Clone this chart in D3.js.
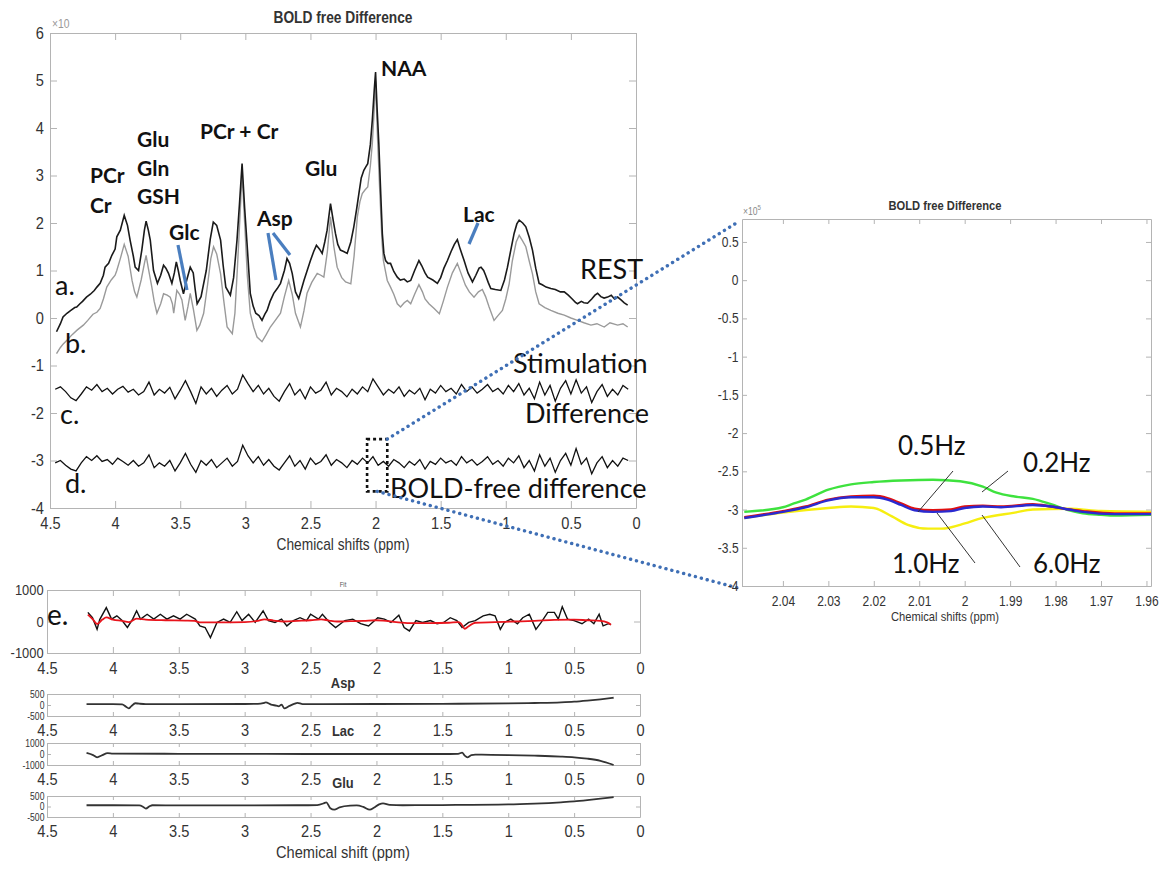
<!DOCTYPE html>
<html>
<head>
<meta charset="utf-8">
<script src="https://cdn.jsdelivr.net/npm/d3@7"></script>
<style>
  body { margin: 0; background: #fff; }
  .mt, .tick text { font-family: 'Liberation Sans', Arial, sans-serif; fill: #333; }
  .ann { font-family: Lato, 'Open Sans', sans-serif; fill: #111; }
</style>
</head>
<body>
<svg id="fig" width="1170" height="869"></svg>
<script>
// ---- main spectrum: a (black) and b (grey), [ppm, value] ----
const specA = [[4.45,-0.29],[4.42,-0.12],[4.40,0.02],[4.37,0.10],[4.34,0.16],[4.31,0.22],[4.295,0.23],[4.27,0.30],[4.25,0.35],[4.22,0.44],[4.19,0.50],[4.16,0.58],[4.14,0.65],[4.115,0.73],[4.09,0.90],[4.077,1.07],[4.05,1.15],[4.025,1.32],[4.0,1.45],[3.987,1.71],[3.96,1.85],[3.93,2.16],[3.905,1.95],[3.885,1.64],[3.86,1.30],[3.846,1.07],[3.82,1.00],[3.795,1.43],[3.775,1.85],[3.762,2.04],[3.745,1.85],[3.73,1.64],[3.705,1.00],[3.675,0.73],[3.65,0.90],[3.628,1.11],[3.61,1.05],[3.59,0.94],[3.564,0.73],[3.545,0.95],[3.53,1.18],[3.515,1.00],[3.5,0.79],[3.475,0.51],[3.45,0.80],[3.423,1.07],[3.40,0.95],[3.385,0.60],[3.37,0.30],[3.34,0.45],[3.30,1.0],[3.27,1.65],[3.246,2.02],[3.22,1.95],[3.19,1.64],[3.17,1.10],[3.15,0.65],[3.115,0.48],[3.09,0.85],[3.064,1.64],[3.045,2.40],[3.025,3.25],[3.005,2.30],[2.987,1.57],[2.962,0.52],[2.94,0.25],[2.92,0.10],[2.895,0.05],[2.872,-0.05],[2.85,0.08],[2.833,0.16],[2.81,0.35],[2.782,0.52],[2.755,0.62],[2.73,0.73],[2.70,1.0],[2.68,1.25],[2.66,1.15],[2.64,0.94],[2.615,0.55],[2.59,0.41],[2.57,0.60],[2.55,0.79],[2.525,1.0],[2.5,1.21],[2.475,1.40],[2.454,1.53],[2.43,1.45],[2.41,1.36],[2.39,1.60],[2.372,1.85],[2.346,2.41],[2.325,2.05],[2.308,1.78],[2.29,1.55],[2.27,1.43],[2.245,1.40],[2.218,1.36],[2.19,1.60],[2.167,1.92],[2.145,2.30],[2.128,2.62],[2.11,2.95],[2.09,3.11],[2.075,3.18],[2.06,3.25],[2.04,3.65],[2.025,4.16],[2.01,4.80],[2.0,5.18],[1.988,4.40],[1.975,3.68],[1.96,2.60],[1.948,1.78],[1.936,1.36],[1.923,1.21],[1.905,1.15],[1.885,1.15],[1.86,0.98],[1.833,0.86],[1.81,0.80],[1.78,0.82],[1.756,0.76],[1.73,0.79],[1.70,1.00],[1.667,1.21],[1.645,1.10],[1.62,0.95],[1.6,0.86],[1.56,0.80],[1.525,0.73],[1.50,0.85],[1.475,1.05],[1.448,1.21],[1.42,1.40],[1.395,1.55],[1.372,1.65],[1.35,1.45],[1.32,1.21],[1.29,0.95],[1.256,0.76],[1.23,0.90],[1.205,1.05],[1.19,1.07],[1.17,1.0],[1.155,0.90],[1.135,0.75],[1.115,0.62],[1.08,0.60],[1.038,0.58],[1.01,0.80],[0.987,1.07],[0.96,1.45],[0.936,1.78],[0.915,1.98],[0.897,2.06],[0.87,2.0],[0.846,1.92],[0.82,1.70],[0.795,1.43],[0.77,1.05],[0.744,0.73],[0.72,0.70],[0.69,0.65],[0.654,0.62],[0.62,0.60],[0.58,0.55],[0.551,0.55],[0.52,0.48],[0.49,0.40],[0.465,0.33],[0.449,0.30],[0.42,0.35],[0.40,0.32],[0.372,0.31],[0.34,0.40],[0.315,0.48],[0.295,0.52],[0.27,0.45],[0.245,0.42],[0.218,0.44],[0.19,0.48],[0.165,0.40],[0.141,0.44],[0.115,0.38],[0.09,0.32],[0.064,0.27]];

const specB = [[4.45,-0.75],[4.42,-0.62],[4.40,-0.55],[4.37,-0.47],[4.33,-0.35],[4.29,-0.25],[4.244,-0.15],[4.21,-0.05],[4.17,0.08],[4.14,0.12],[4.115,0.20],[4.09,0.40],[4.064,0.65],[4.03,0.80],[4.0,0.90],[3.987,1.0],[3.96,1.25],[3.93,1.55],[3.90,1.30],[3.87,0.79],[3.85,0.55],[3.833,0.44],[3.80,0.80],[3.775,1.15],[3.762,1.32],[3.745,1.05],[3.718,0.65],[3.70,0.35],[3.679,0.10],[3.65,0.30],[3.628,0.51],[3.60,0.48],[3.577,0.44],[3.56,0.30],[3.55,0.10],[3.526,0.58],[3.505,0.50],[3.487,0.38],[3.462,-0.05],[3.44,0.25],[3.423,0.52],[3.40,0.20],[3.372,-0.26],[3.35,-0.15],[3.32,0.10],[3.29,0.70],[3.265,1.25],[3.244,1.50],[3.22,1.35],[3.19,0.93],[3.165,0.35],[3.14,-0.19],[3.10,-0.33],[3.08,0.10],[3.06,1.10],[3.04,2.20],[3.025,3.05],[3.005,2.0],[2.985,0.90],[2.962,0.10],[2.935,-0.20],[2.91,-0.40],[2.872,-0.50],[2.84,-0.35],[2.808,-0.19],[2.77,-0.05],[2.73,0.10],[2.70,0.45],[2.667,0.79],[2.64,0.50],[2.615,0.10],[2.577,-0.19],[2.55,0.15],[2.526,0.52],[2.49,0.75],[2.448,0.94],[2.42,0.90],[2.397,0.86],[2.37,1.40],[2.346,2.13],[2.32,1.50],[2.295,1.07],[2.26,0.85],[2.23,0.76],[2.19,0.72],[2.165,1.30],[2.14,2.13],[2.12,2.45],[2.102,2.62],[2.08,2.70],[2.06,2.76],[2.04,3.20],[2.025,3.67],[2.01,4.40],[2.0,5.0],[1.985,3.80],[1.967,2.62],[1.95,1.60],[1.94,1.21],[1.91,0.79],[1.885,0.65],[1.86,0.50],[1.833,0.30],[1.808,0.23],[1.78,0.32],[1.756,0.37],[1.73,0.30],[1.70,0.50],[1.667,0.70],[1.64,0.55],[1.62,0.40],[1.59,0.30],[1.55,0.20],[1.51,0.09],[1.48,0.35],[1.448,0.65],[1.41,0.95],[1.372,1.15],[1.345,0.95],[1.31,0.69],[1.28,0.55],[1.244,0.44],[1.21,0.55],[1.18,0.60],[1.155,0.45],[1.128,0.23],[1.09,-0.05],[1.06,0.05],[1.026,0.16],[1.0,0.40],[0.974,0.72],[0.95,1.20],[0.92,1.60],[0.897,1.74],[0.87,1.62],[0.846,1.50],[0.82,1.20],[0.795,0.93],[0.77,0.55],[0.744,0.30],[0.70,0.22],[0.654,0.16],[0.60,0.10],[0.551,0.06],[0.50,0.0],[0.449,-0.05],[0.40,-0.10],[0.346,-0.15],[0.30,-0.12],[0.244,-0.19],[0.20,-0.10],[0.141,-0.15],[0.10,-0.12],[0.064,-0.19]];

// c. stimulation difference and d. BOLD-free difference, sampled every 0.04 ppm from 4.46
const diffStart = 4.46, diffStep = 0.04;
const diffC = [
  -1.50,-1.45,-1.55,-1.68,-1.74,-1.60,-1.45,-1.52,-1.40,-1.55,
  -1.48,-1.60,-1.50,-1.44,-1.56,-1.50,-1.62,-1.55,-1.35,-1.62,
  -1.50,-1.58,-1.46,-1.70,-1.52,-1.32,-1.55,-1.80,-1.45,-1.60,
  -1.48,-1.65,-1.52,-1.42,-1.60,-1.50,-1.20,-1.38,-1.55,-1.42,
  -1.60,-1.48,-1.65,-1.75,-1.55,-1.38,-1.62,-1.50,-1.70,-1.45,
  -1.58,-1.52,-1.35,-1.62,-1.48,-1.55,-1.66,-1.50,-1.60,-1.45,
  -1.55,-1.28,-1.45,-1.62,-1.50,-1.58,-1.45,-1.65,-1.52,-1.60,
  -1.48,-1.72,-1.50,-1.58,-1.42,-1.55,-1.48,-1.60,-1.40,-1.55,
  -1.45,-1.58,-1.50,-1.40,-1.55,-1.48,-1.60,-1.42,-1.55,-1.38,
  -1.62,-1.48,-1.70,-1.35,-1.62,-1.42,-1.75,-1.48,-1.32,-1.60,
  -1.30,-1.58,-1.45,-1.78,-1.55,-1.40,-1.65,-1.50,-1.62,-1.42,
  -1.50];
const diffD = [
  -3.05,-3.00,-3.10,-3.18,-3.22,-3.05,-2.92,-3.00,-2.90,-3.02,
  -2.98,-3.08,-2.95,-3.02,-3.10,-3.00,-3.12,-3.05,-2.88,-3.15,
  -3.05,-3.12,-3.00,-3.22,-3.05,-2.85,-3.08,-3.25,-3.00,-3.10,
  -2.98,-3.15,-3.05,-2.95,-3.12,-3.02,-2.68,-2.90,-3.05,-2.92,
  -3.10,-2.98,-3.12,-3.20,-3.05,-2.90,-3.12,-3.00,-3.18,-2.95,
  -3.08,-3.02,-2.88,-3.10,-2.98,-3.05,-3.15,-3.00,-3.08,-2.95,
  -3.05,-2.92,-3.10,-3.02,-3.12,-2.98,-3.05,-3.15,-3.02,-3.10,
  -2.98,-3.18,-3.02,-3.08,-2.95,-3.05,-3.00,-3.10,-2.92,-3.05,
  -2.98,-3.10,-3.02,-2.92,-3.08,-3.00,-3.12,-2.95,-3.05,-2.90,
  -3.15,-3.00,-3.22,-2.88,-3.12,-2.95,-3.25,-3.00,-2.85,-3.10,
  -2.75,-3.08,-2.95,-3.28,-3.05,-2.92,-3.15,-3.00,-3.12,-2.95,
  -3.00];

// ---- zoomed inset (x1e5) ----
const zoomGreen = [[2.0485,-3.03],[2.04,-2.97],[2.038,-2.93],[2.035,-2.87],[2.03,-2.74],[2.025,-2.67],[2.02,-2.64],[2.014,-2.62],[2.007,-2.61],[2.001,-2.63],[1.996,-2.70],[1.993,-2.78],[1.989,-2.83],[1.985,-2.86],[1.981,-2.93],[1.977,-3.01],[1.974,-3.05],[1.97,-3.07],[1.967,-3.08],[1.959,-3.07]];
const zoomRed = [[2.0485,-3.10],[2.04,-3.02],[2.035,-2.96],[2.03,-2.87],[2.025,-2.83],[2.02,-2.82],[2.017,-2.85],[2.014,-2.92],[2.011,-2.99],[2.007,-3.01],[2.003,-3.00],[2.0,-2.96],[1.996,-2.95],[1.992,-2.96],[1.985,-2.93],[1.981,-2.96],[1.977,-3.00],[1.974,-3.02],[1.967,-3.05],[1.959,-3.05]];
const zoomBlue = [[2.0485,-3.11],[2.04,-3.03],[2.035,-2.97],[2.03,-2.88],[2.025,-2.84],[2.02,-2.84],[2.017,-2.87],[2.014,-2.94],[2.011,-3.01],[2.007,-3.03],[2.003,-3.02],[2.0,-2.98],[1.996,-2.96],[1.992,-2.97],[1.985,-2.94],[1.981,-2.96],[1.977,-3.00],[1.974,-3.03],[1.967,-3.06],[1.959,-3.06]];
const zoomYellow = [[2.0485,-3.11],[2.04,-3.04],[2.03,-2.98],[2.025,-2.96],[2.02,-2.98],[2.016,-3.09],[2.0125,-3.20],[2.008,-3.25],[2.005,-3.25],[2.001,-3.20],[1.996,-3.11],[1.989,-3.04],[1.985,-3.00],[1.977,-2.99],[1.97,-3.02],[1.959,-3.03]];

// ---- e. fit residual panel ----
const fitData = [[4.19,290],[4.155,120],[4.12,-250],[4.10,60],[4.05,440],[4.01,75],[3.97,180],[3.93,30],[3.89,-190],[3.85,75],[3.82,340],[3.79,75],[3.74,230],[3.69,75],[3.64,230],[3.59,75],[3.54,180],[3.49,75],[3.44,230],[3.375,75],[3.34,-140],[3.30,-190],[3.26,-510],[3.21,-30],[3.16,75],[3.11,-30],[3.06,310],[3.02,30],[2.97,230],[2.92,-30],[2.86,340],[2.82,30],[2.77,-30],[2.72,75],[2.68,-140],[2.63,30],[2.58,120],[2.53,30],[2.50,230],[2.44,75],[2.41,230],[2.356,-30],[2.31,-190],[2.24,30],[2.18,75],[2.12,-70],[2.06,-140],[1.99,120],[1.94,75],[1.89,-30],[1.83,200],[1.79,-190],[1.75,-300],[1.70,30],[1.65,-30],[1.59,30],[1.54,-70],[1.49,-30],[1.44,120],[1.39,30],[1.35,-190],[1.30,-30],[1.25,30],[1.19,180],[1.14,230],[1.10,180],[1.06,-250],[1.03,-30],[0.98,75],[0.93,-70],[0.89,120],[0.84,230],[0.79,-250],[0.75,-30],[0.70,290],[0.65,290],[0.62,75],[0.59,470],[0.55,75],[0.50,30],[0.44,-70],[0.39,75],[0.35,-70],[0.31,230],[0.28,-140],[0.24,-70],[0.22,-100]];
const fitCurve = [[4.19,220],[4.15,60],[4.12,-80],[4.08,60],[4.05,130],[4.0,60],[3.93,20],[3.88,-20],[3.82,90],[3.75,60],[3.6,40],[3.45,30],[3.38,20],[3.34,-30],[3.2,-30],[3.0,-20],[2.9,20],[2.85,70],[2.78,30],[2.7,0],[2.6,20],[2.5,40],[2.42,70],[2.36,30],[2.3,0],[2.2,10],[2.1,20],[2.0,40],[1.95,30],[1.85,-20],[1.75,-50],[1.6,-50],[1.45,-40],[1.38,-20],[1.36,-60],[1.33,-230],[1.30,-150],[1.25,-40],[1.1,-20],[0.95,0],[0.8,20],[0.65,50],[0.5,60],[0.4,40],[0.3,20],[0.25,-30],[0.22,-100]];

// ---- metabolite basis panels ----
const aspCurve = [[4.2,40],[4.0,40],[3.93,30],[3.9,-80],[3.88,-150],[3.86,-50],[3.83,80],[3.8,60],[3.75,40],[3.5,40],[3.0,45],[2.9,50],[2.86,80],[2.84,120],[2.8,20],[2.76,-30],[2.74,-60],[2.72,20],[2.7,-150],[2.66,-40],[2.62,60],[2.6,100],[2.56,40],[2.4,40],[2.0,45],[1.5,55],[1.0,70],[0.8,90],[0.6,120],[0.5,150],[0.4,200],[0.3,260],[0.2,330]];
const lacCurve = [[4.2,100],[4.15,-100],[4.12,-300],[4.08,-100],[4.04,80],[4.0,40],[3.5,20],[3.0,10],[2.5,0],[2.0,0],[1.5,0],[1.38,20],[1.35,120],[1.33,-150],[1.31,-300],[1.28,-100],[1.25,-50],[1.2,-60],[1.0,-100],[0.8,-150],[0.6,-230],[0.5,-300],[0.4,-420],[0.3,-620],[0.2,-1000]];
const gluCurve = [[4.2,60],[4.0,60],[3.8,50],[3.77,-20],[3.75,-100],[3.72,20],[3.7,60],[3.5,50],[3.0,55],[2.6,60],[2.45,70],[2.4,150],[2.38,200],[2.35,-80],[2.32,-150],[2.28,-40],[2.2,40],[2.15,50],[2.1,-20],[2.05,-150],[2.02,-60],[1.98,100],[1.95,150],[1.9,80],[1.8,60],[1.5,70],[1.0,100],[0.8,140],[0.6,200],[0.5,240],[0.4,300],[0.3,370],[0.2,450]];

// tick values
const ppmTicks = [4.5, 4, 3.5, 3, 2.5, 2, 1.5, 1, 0.5, 0];
const mainYTicks = [6, 5, 4, 3, 2, 1, 0, -1, -2, -3, -4];
const zoomXTicks = [2.04, 2.03, 2.02, 2.01, 2, 1.99, 1.98, 1.97, 1.96];
const zoomYTicks = [0.5, 0, -0.5, -1, -1.5, -2, -2.5, -3, -3.5, -4];

const svg = d3.select('#fig');
svg.append('rect').attr('width', 1170).attr('height', 869).attr('fill', '#fff');

const frameCol = '#b4b4b4';
const narrow = 'scale(0.86,1)';

// MATLAB-ish box with inward ticks on all four sides
function box(x, y, xt, yt, o) {
  const g = svg.append('g');
  const [x0, x1] = x.range(), [y0, y1] = y.range();
  const tl = o.tick || 6;
  const fmt = (t) => String(t);
  g.append('g').attr('transform', `translate(0,${y0})`)
    .call(d3.axisBottom(x).tickValues(xt).tickFormat(fmt).tickSizeInner(-tl).tickSizeOuter(0).tickPadding(o.xPad || 8))
    .selectAll('text').style('font-size', (o.xFont || 16) + 'px');
  g.append('g').attr('transform', `translate(0,${y1})`)
    .call(d3.axisTop(x).tickValues(xt).tickFormat('').tickSizeInner(-tl).tickSizeOuter(0));
  g.append('g').attr('transform', `translate(${x0},0)`)
    .call(d3.axisLeft(y).tickValues(yt).tickFormat(fmt).tickSizeInner(-tl).tickSizeOuter(0).tickPadding(o.yPad || 5))
    .selectAll('text').style('font-size', (o.yFont || 16) + 'px');
  g.append('g').attr('transform', `translate(${x1},0)`)
    .call(d3.axisRight(y).tickValues(yt).tickFormat('').tickSizeInner(-tl).tickSizeOuter(0));
  g.selectAll('.domain').attr('stroke', frameCol);
  g.selectAll('.tick line').attr('stroke', frameCol);
  g.selectAll('.tick text').attr('fill', '#333').attr('transform', narrow);
  return g;
}

function text(x, y, s, cls, size, weight, anchor) {
  const t = svg.append('text').attr('class', cls)
    .attr('dominant-baseline', 'central')
    .attr('text-anchor', anchor || 'start')
    .style('font-size', size + 'px').style('font-weight', weight || 'normal').text(s);
  if (cls === 'mt') t.attr('transform', `translate(${x},${y}) ${narrow}`);
  else t.attr('x', x).attr('y', y);
  return t;
}

// ===== main panel =====
const xMain = d3.scaleLinear().domain([4.5, 0]).range([50, 636]);
const yMain = d3.scaleLinear().domain([-4, 6]).range([508, 33]);
box(xMain, yMain, ppmTicks, mainYTicks, { xFont: 17, yFont: 17, xPad: 9, yPad: 7, tick: 7 });

const lineMain = d3.line().x(d => xMain(d[0])).y(d => yMain(d[1]));
const lineDiff = d3.line().x((v, i) => xMain(diffStart - i * diffStep)).y(v => yMain(v));

svg.append('path').attr('d', lineMain(specB)).attr('fill', 'none').attr('stroke', '#9a9a9a').attr('stroke-width', 1.4);
svg.append('path').attr('d', lineMain(specA)).attr('fill', 'none').attr('stroke', '#1a1a1a').attr('stroke-width', 1.6);
svg.append('path').attr('d', lineDiff(diffC)).attr('fill', 'none').attr('stroke', '#111').attr('stroke-width', 1.3);
svg.append('path').attr('d', lineDiff(diffD)).attr('fill', 'none').attr('stroke', '#111').attr('stroke-width', 1.3);

text(343, 17, 'BOLD free Difference', 'mt', 16, 'bold', 'middle');
text(52, 24, '\u00d710', 'mt', 12, 'normal').style('fill', '#999');
text(343, 544, 'Chemical shifts (ppm)', 'mt', 16, 'normal', 'middle');

// peak names
const bold = 21;
text(90, 174, 'PCr', 'ann', bold, 'bold');
text(90, 204, 'Cr', 'ann', bold, 'bold');
text(137, 138, 'Glu', 'ann', bold, 'bold');
text(137, 167, 'Gln', 'ann', bold, 'bold');
text(137, 195, 'GSH', 'ann', bold, 'bold');
text(169, 231, 'Glc', 'ann', bold, 'bold');
text(200, 130, 'PCr + Cr', 'ann', bold, 'bold');
text(257, 217, 'Asp', 'ann', bold, 'bold');
text(305, 167, 'Glu', 'ann', bold, 'bold');
text(381, 67, 'NAA', 'ann', bold, 'bold');
text(463, 213, 'Lac', 'ann', bold, 'bold');

text(55, 284, 'a.', 'ann', 27);
text(65, 342, 'b.', 'ann', 27);
text(60, 413, 'c.', 'ann', 27);
text(65, 482, 'd.', 'ann', 27);
text(580, 268, 'REST', 'ann', 27);
text(513, 362, 'Stimulation', 'ann', 27);
text(525, 412, 'Difference', 'ann', 27);
text(390, 487, 'BOLD-free difference', 'ann', 27);

// blue pointers
const pointerCol = '#4a7ebf';
[[178, 245, 187, 290], [268, 233, 276, 280], [273, 233, 290, 255], [478, 223, 469, 244]].forEach(p => {
  svg.append('line').attr('x1', p[0]).attr('y1', p[1]).attr('x2', p[2]).attr('y2', p[3])
    .attr('stroke', pointerCol).attr('stroke-width', 3.2);
});

// zoom box and connectors
const bx0 = xMain(2.065), bx1 = xMain(1.91), by0 = yMain(-2.55), by1 = yMain(-3.65);
svg.append('rect').attr('x', bx0).attr('y', by0).attr('width', bx1 - bx0).attr('height', by1 - by0)
  .attr('fill', 'none').attr('stroke', '#111').attr('stroke-width', 2.6).attr('stroke-dasharray', '3,3');
svg.append('line').attr('x1', bx1).attr('y1', by0).attr('x2', 738).attr('y2', 222)
  .attr('stroke', '#3f6fb5').attr('stroke-width', 3.4).attr('stroke-dasharray', '0.1,6').attr('stroke-linecap', 'round');
svg.append('line').attr('x1', (bx0 + bx1) / 2).attr('y1', by1).attr('x2', 738).attr('y2', 588)
  .attr('stroke', '#3f6fb5').attr('stroke-width', 3.4).attr('stroke-dasharray', '0.1,6').attr('stroke-linecap', 'round');

// ===== inset =====
const xZoom = d3.scaleLinear().domain([2.049, 1.959]).range([742, 1151]);
const yZoom = d3.scaleLinear().domain([-4, 0.8]).range([586, 219]);
box(xZoom, yZoom, zoomXTicks, zoomYTicks, { xFont: 14, yFont: 14, xPad: 10, yPad: 4, tick: 5 });
const lineZoom = d3.line().curve(d3.curveMonotoneX).x(d => xZoom(d[0])).y(d => yZoom(d[1]));
[[zoomGreen, '#3ee23e'], [zoomYellow, '#f6ee10'], [zoomRed, '#e01010'], [zoomBlue, '#2a2ad0']].forEach(([s, c]) => {
  svg.append('path').attr('d', lineZoom(s)).attr('fill', 'none').attr('stroke', c).attr('stroke-width', 2.4);
});
text(945, 206, 'BOLD free Difference', 'mt', 13, 'bold', 'middle');
const ex = text(743, 212, '\u00d710', 'mt', 10, 'normal').style('fill', '#888');
ex.append('tspan').attr('dy', -5).style('font-size', '7px').text('5');
text(945, 617, 'Chemical shifts (ppm)', 'mt', 13, 'normal', 'middle');

text(898, 445, '0.5Hz', 'ann', 26);
text(1023, 462, '0.2Hz', 'ann', 26);
text(892, 563, '1.0Hz', 'ann', 26);
text(1033, 563, '6.0Hz', 'ann', 26);
[[953, 471, 918, 512], [1008, 471, 982, 492], [975, 563, 937, 513], [1020, 567, 982, 515]].forEach(p => {
  svg.append('line').attr('x1', p[0]).attr('y1', p[1]).attr('x2', p[2]).attr('y2', p[3])
    .attr('stroke', '#333').attr('stroke-width', 1);
});

// ===== e. and basis panels =====
const xLow = d3.scaleLinear().domain([4.5, 0]).range([47, 640]);
const yFit = d3.scaleLinear().domain([-1000, 1000]).range([653, 590]);
box(xLow, yFit, ppmTicks, [1000, 0, -1000], { xFont: 17, yFont: 15, xPad: 9, yPad: 4, tick: 6 });
const lineFit = d3.line().x(d => xLow(d[0])).y(d => yFit(d[1]));
svg.append('path').attr('d', lineFit(fitData)).attr('fill', 'none').attr('stroke', '#111').attr('stroke-width', 1.4);
svg.append('path').attr('d', d3.line().curve(d3.curveMonotoneX).x(d => xLow(d[0])).y(d => yFit(d[1]))(fitCurve))
  .attr('fill', 'none').attr('stroke', '#e8141c').attr('stroke-width', 1.8);
text(47, 614, 'e.', 'ann', 28);
text(343, 584, 'Fit', 'mt', 7, 'normal', 'middle').style('fill', '#555');

const basis = [
  { name: 'Asp', data: aspCurve, dom: [-500, 500], top: 694, bot: 716, ticks: [500, 0, -500], ty: 683 },
  { name: 'Lac', data: lacCurve, dom: [-1000, 1000], top: 743, bot: 765, ticks: [1000, 0, -1000], ty: 731 },
  { name: 'Glu', data: gluCurve, dom: [-500, 500], top: 796, bot: 817, ticks: [500, 0, -500], ty: 783 }
];
basis.forEach(b => {
  const y = d3.scaleLinear().domain(b.dom).range([b.bot, b.top]);
  box(xLow, y, ppmTicks, b.ticks, { xFont: 17, yFont: 10, xPad: 8, yPad: 3, tick: 4 });
  svg.append('path').attr('d', d3.line().curve(d3.curveMonotoneX).x(d => xLow(d[0])).y(d => y(d[1]))(b.data))
    .attr('fill', 'none').attr('stroke', '#333').attr('stroke-width', 1.8);
  text(343, b.ty, b.name, 'mt', 15, 'bold', 'middle');
});
text(343, 852, 'Chemical shift (ppm)', 'mt', 17, 'normal', 'middle');
</script>
</body>
</html>
